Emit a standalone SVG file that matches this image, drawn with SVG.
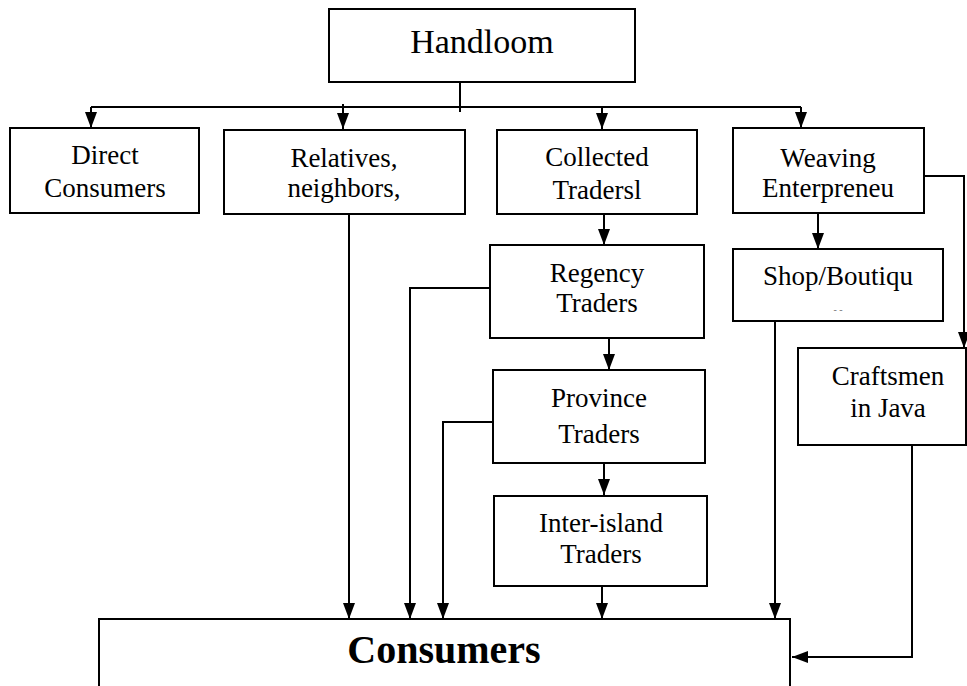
<svg xmlns="http://www.w3.org/2000/svg" width="967" height="686" viewBox="0 0 967 686">
<style>
.box{fill:#fff;stroke:#000;stroke-width:2}
.t{font-family:"Liberation Serif","Times New Roman",serif;font-size:27px;text-anchor:middle;fill:#000}
.big{font-size:34px}
.bold{font-size:40px;font-weight:bold}
.c{fill:none;stroke:#000;stroke-width:2}
.a{marker-end:url(#ah)}
</style>
<defs>
<marker id="ah" viewBox="0 0 12 16" refX="6" refY="16" markerWidth="12" markerHeight="16" markerUnits="userSpaceOnUse" orient="0">
<path d="M0,0 L12,0 L6,16 z" fill="#000"/>
</marker>
<marker id="al" viewBox="0 0 16 12" refX="0" refY="6" markerWidth="16" markerHeight="12" markerUnits="userSpaceOnUse" orient="0">
<path d="M16,0 L16,12 L0,6 z" fill="#000"/>
</marker>
</defs>
<g id="connectors">
<line class="c" x1="460" y1="82" x2="460" y2="112"/>
<line class="c" x1="91" y1="107" x2="801" y2="107"/>
<line class="c a" x1="91" y1="107" x2="91" y2="128"/>
<line class="c a" x1="343" y1="104" x2="343" y2="129"/>
<line class="c a" x1="602" y1="107" x2="602" y2="129"/>
<line class="c a" x1="801" y1="107" x2="801" y2="128"/>
<polyline class="c a" points="924,176 964,176 964,348"/>
<line class="c a" x1="818" y1="214" x2="818" y2="249"/>
<line class="c a" x1="604" y1="214" x2="604" y2="245"/>
<line class="c a" x1="609" y1="338" x2="609" y2="370"/>
<line class="c a" x1="604" y1="463" x2="604" y2="495"/>
<line class="c a" x1="602" y1="586" x2="602" y2="619"/>
<line class="c a" x1="349" y1="214" x2="349" y2="619"/>
<polyline class="c a" points="493,288 410,288 410,619"/>
<polyline class="c a" points="493,422 443,422 443,619"/>
<line class="c a" x1="775" y1="321" x2="775" y2="619"/>
<polyline class="c" points="912,445 912,657 792,657" style="marker-end:url(#al)"/>
</g>
<g id="handloom"><rect class="box" x="329" y="9" width="306" height="73"/><text class="t big" x="482" y="53">Handloom</text></g>
<g id="direct"><rect class="box" x="10" y="128" width="189" height="85"/><text class="t" x="105" y="164">Direct</text><text class="t" x="105" y="197">Consumers</text></g>
<g id="relatives"><rect class="box" x="224" y="130" width="241" height="84"/><text class="t" x="344" y="167">Relatives,</text><text class="t" x="344" y="197">neighbors,</text></g>
<g id="collected"><rect class="box" x="497" y="130" width="200" height="84"/><text class="t" x="597" y="166">Collected</text><text class="t" x="597" y="199">Tradersl</text></g>
<g id="weaving"><rect class="box" x="733" y="128" width="191" height="85"/><text class="t" x="828" y="167">Weaving</text><text class="t" x="828" y="197">Enterpreneu</text></g>
<g id="regency"><rect class="box" x="490" y="245" width="214" height="93"/><text class="t" x="597" y="282">Regency</text><text class="t" x="597" y="312">Traders</text></g>
<g id="shop"><rect class="box" x="733" y="249" width="210" height="72"/><text class="t" x="838" y="285">Shop/Boutiqu</text><text class="t" x="838" y="313" style="font-size:10px;fill:#777">- -</text></g>
<g id="province"><rect class="box" x="493" y="370" width="212" height="93"/><text class="t" x="599" y="407">Province</text><text class="t" x="599" y="443">Traders</text></g>
<g id="craftsmen"><rect class="box" x="798" y="348" width="168" height="97"/><text class="t" x="888" y="385">Craftsmen</text><text class="t" x="888" y="417">in Java</text></g>
<g id="interisland"><rect class="box" x="494" y="496" width="213" height="90"/><text class="t" x="601" y="532">Inter-island</text><text class="t" x="601" y="563">Traders</text></g>
<g id="consumers"><rect class="box" x="99" y="619" width="691" height="80"/><text class="t bold" x="444" y="663">Consumers</text></g>
</svg>
